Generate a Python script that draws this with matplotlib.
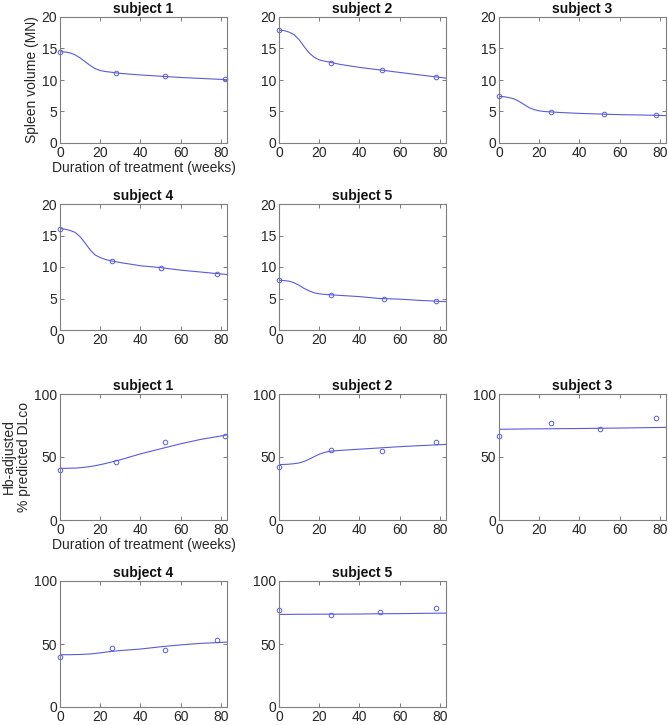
import matplotlib
matplotlib.use("Agg")
import matplotlib.pyplot as plt

plt.rcParams['font.family'] = ['Liberation Sans', 'DejaVu Sans']

# === observed data ===
subjects = ["subject 1", "subject 2", "subject 3", "subject 4", "subject 5"]

spleen_t = [[0, 28, 52, 82], [0, 26, 51, 78], [0, 26, 52, 78], [0, 26, 50, 78], [0, 26, 52, 78]]
spleen_obs = [[14.5, 11.1, 10.6, 10.1],
              [17.9, 12.7, 11.6, 10.5],
              [7.4, 4.9, 4.6, 4.4],
              [16.1, 10.9, 9.9, 8.9],
              [7.9, 5.6, 4.9, 4.6]]

dlco_t = [[0, 28, 52, 82], [0, 26, 51, 78], [0, 26, 50, 78], [0, 26, 52, 78], [0, 26, 50, 78]]
dlco_obs = [[40, 46, 62, 67],
            [42, 55.5, 54.5, 62],
            [67, 77, 72, 81],
            [40, 47, 45, 53],
            [77, 73, 75.5, 78.5]]

# === model fits ===
fit_t = [0, 2.5, 5, 7.5, 10, 12.5, 15, 17.5, 20, 22.5, 25, 30, 40, 50, 60, 70, 83]
spleen_fit = [
    [14.5, 14.45, 14.3, 14.0, 13.5, 12.9, 12.3, 11.8, 11.5, 11.35, 11.25, 11.05, 10.8, 10.6, 10.4, 10.25, 10.05],
    [17.9, 17.85, 17.6, 17.2, 16.4, 15.3, 14.3, 13.6, 13.2, 13.0, 12.85, 12.5, 12.0, 11.6, 11.2, 10.8, 10.3],
    [7.4, 7.35, 7.2, 7.0, 6.6, 6.1, 5.6, 5.3, 5.1, 5.0, 4.95, 4.85, 4.7, 4.6, 4.5, 4.45, 4.35],
    [16.1, 16.0, 15.8, 15.5, 14.8, 13.8, 12.7, 11.9, 11.5, 11.2, 11.0, 10.7, 10.2, 9.9, 9.5, 9.2, 8.8],
    [7.9, 7.85, 7.75, 7.5, 7.1, 6.6, 6.2, 5.9, 5.75, 5.65, 5.6, 5.5, 5.3, 5.0, 4.9, 4.7, 4.5]]
dlco_fit = [
    [41, 41, 41.1, 41.2, 41.5, 41.9, 42.4, 43.1, 43.9, 44.8, 45.8, 47.8, 52.5, 56.5, 60.5, 64, 67.5],
    [44, 44.1, 44.3, 44.7, 45.3, 46.5, 48.3, 50.3, 52.2, 53.6, 54.5, 55.2, 56.2, 57.2, 58.2, 59, 60],
    [72, 72.05, 72.1, 72.15, 72.2, 72.25, 72.3, 72.3, 72.35, 72.4, 72.4, 72.5, 72.6, 72.8, 73, 73.2, 73.5],
    [41.5, 41.5, 41.5, 41.6, 41.7, 41.9, 42.1, 42.5, 43, 43.5, 44, 44.8, 46, 47.8, 49.3, 50.5, 51.5],
    [73.5, 73.5, 73.5, 73.55, 73.6, 73.6, 73.6, 73.65, 73.65, 73.7, 73.7, 73.7, 73.8, 74, 74.1, 74.3, 74.5]]

W, H = 668, 725
fig = plt.figure(figsize=(W / 100, H / 100), dpi=100)

col_left = [60, 279, 499]
ax_w = 167
ax_h = 126
row_top = [17, 204, 394, 581]

line_col = '#5a5ae0'
txt_col = '#262626'


def make_ax(left, top):
    return fig.add_axes([left / W, 1 - (top + ax_h) / H, ax_w / W, ax_h / H])


def style(ax, yticks):
    ax.set_xlim(0, 83)
    ax.set_ylim(yticks[0], yticks[-1])
    ax.set_xticks([0, 20, 40, 60, 80])
    ax.set_yticks(yticks)
    ax.tick_params(direction='in', top=True, right=True, length=3, width=0.6,
                   color='#666666', labelsize=10, pad=2, labelcolor=txt_col)
    for s in ax.spines.values():
        s.set_color('#7f7f7f')
        s.set_linewidth(0.8)


blocks = [(0, spleen_t, spleen_obs, spleen_fit, [0, 5, 10, 15, 20]),
          (2, dlco_t, dlco_obs, dlco_fit, [0, 50, 100])]

for row0, ts, obs, fits, yt in blocks:
    for i in range(5):
        r = row0 + i // 3
        c = i % 3
        ax = make_ax(col_left[c], row_top[r])
        ax.plot(fit_t, fits[i], color=line_col, lw=0.8)
        ax.plot(ts[i], obs[i], 'o', ms=3.3, mfc='none', mec=line_col, mew=0.7, clip_on=False)
        style(ax, yt)
        ax.set_title(subjects[i], fontsize=10, fontweight='bold', pad=3, color='#111111')
        if i == 0:
            ax.set_xlabel("Duration of treatment (weeks)", fontsize=10, labelpad=1, color=txt_col)
            if row0 == 0:
                ax.set_ylabel("Spleen volume (MN)", fontsize=10, labelpad=2, color=txt_col)
            else:
                ax.set_ylabel("Hb-adjusted\n% predicted DLco", fontsize=10, labelpad=2,
                              color=txt_col, linespacing=1.1)

fig.savefig("out.png", dpi=100)
